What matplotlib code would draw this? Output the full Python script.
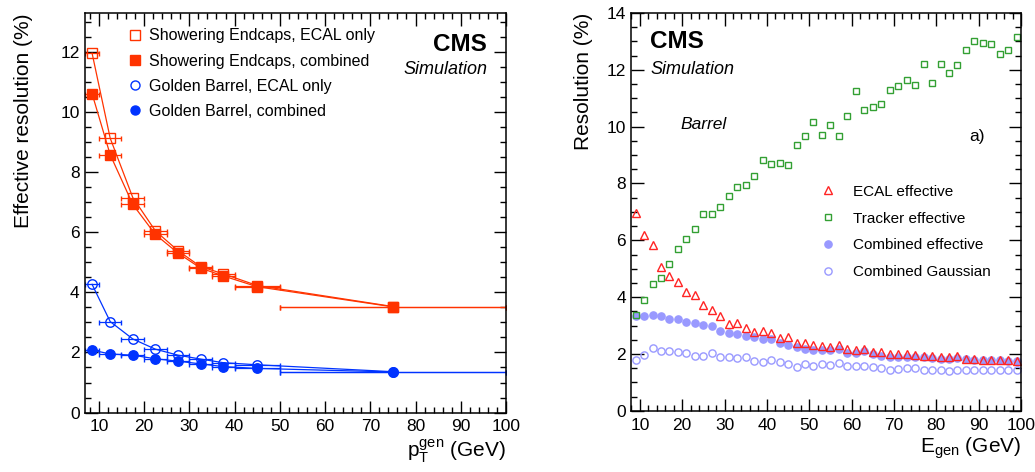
import numpy as np
import matplotlib
matplotlib.use('Agg')
import matplotlib.pyplot as plt
from matplotlib.lines import Line2D
from matplotlib.ticker import MultipleLocator

plt.rcParams['font.family'] = ['Liberation Sans', 'DejaVu Sans']
plt.rcParams['mathtext.fontset'] = 'custom'
plt.rcParams['mathtext.rm'] = 'Liberation Sans'
plt.rcParams['mathtext.it'] = 'Liberation Sans:italic'
plt.rcParams['mathtext.default'] = 'regular'

# --- Left panel: effective resolution in pT bins

pt_lo = np.array([7, 10, 15, 20, 25, 30, 35, 40, 50])
pt_hi = np.array([10, 15, 20, 25, 30, 35, 40, 50, 100])

endcap_ecal = [11.97, 9.14, 7.16, 6.05, 5.39, 4.86, 4.62, 4.23, 3.53]
endcap_comb = [10.62, 8.59, 6.93, 5.93, 5.31, 4.81, 4.55, 4.19, 3.52]
barrel_ecal = [4.27, 3.03, 2.45, 2.11, 1.91, 1.78, 1.66, 1.59, 1.36]
barrel_comb = [2.08, 1.95, 1.91, 1.79, 1.71, 1.62, 1.53, 1.47, 1.35]

# --- Right panel: barrel resolution vs generated energy

e_gen = [9, 11, 13, 15, 17, 19, 21, 23, 25, 27, 29, 31, 33, 35, 37, 39,
         41, 43, 45, 47, 49, 51, 53, 55, 57, 59, 61, 63, 65, 67, 69, 71,
         73, 75, 77, 79, 81, 83, 85, 87, 89, 91, 93, 95, 97, 99]

ecal_eff = [6.95, 6.17, 5.85, 5.06, 4.75, 4.52, 4.18, 4.06, 3.74, 3.55,
            3.32, 3.05, 3.09, 2.92, 2.77, 2.80, 2.74, 2.56, 2.59, 2.40,
            2.37, 2.31, 2.29, 2.23, 2.30, 2.18, 2.15, 2.17, 2.06, 2.06,
            2.00, 2.00, 2.00, 1.98, 1.94, 1.94, 1.88, 1.88, 1.92, 1.83,
            1.82, 1.78, 1.80, 1.78, 1.78, 1.75]

tracker_eff = [3.37, 3.89, 4.47, 4.68, 5.15, 5.69, 6.05, 6.38, 6.94, 6.92,
               7.16, 7.55, 7.86, 7.93, 8.27, 8.81, 8.70, 8.72, 8.64, 9.34,
               9.66, 10.15, 9.71, 10.05, 9.68, 10.38, 11.26, 10.58, 10.70, 10.79,
               11.28, 11.42, 11.63, 11.46, 12.21, 11.55, 12.21, 11.90, 12.16, 12.71,
               13.00, 12.93, 12.90, 12.56, 12.71, 13.15]

comb_eff = [3.35, 3.35, 3.37, 3.34, 3.24, 3.23, 3.13, 3.09, 3.03, 2.97,
            2.80, 2.74, 2.69, 2.64, 2.58, 2.51, 2.52, 2.37, 2.33, 2.24,
            2.16, 2.15, 2.15, 2.15, 2.16, 2.05, 2.03, 2.09, 2.01, 1.94,
            1.91, 1.91, 1.90, 1.89, 1.90, 1.85, 1.81, 1.82, 1.84, 1.81,
            1.79, 1.77, 1.77, 1.77, 1.76, 1.74]

comb_gaus = [1.78, 1.98, 2.22, 2.09, 2.12, 2.06, 2.05, 1.92, 1.92, 2.02,
             1.89, 1.88, 1.87, 1.88, 1.74, 1.71, 1.79, 1.71, 1.63, 1.55,
             1.64, 1.56, 1.64, 1.60, 1.68, 1.57, 1.57, 1.58, 1.55, 1.52,
             1.44, 1.48, 1.50, 1.50, 1.42, 1.45, 1.44, 1.41, 1.42, 1.45,
             1.45, 1.43, 1.43, 1.42, 1.42, 1.42]

RED = '#ff3300'
BLUE = '#0033ff'
TRI_RED = '#ff2424'
GREEN = '#33a033'
LAV = '#9999ff'


def root_style(ax):
    ax.tick_params(which='both', direction='in', top=True, right=True,
                   labelsize=12.5, width=1.0)
    ax.tick_params(which='major', length=9)
    ax.tick_params(which='minor', length=4.5)
    ax.tick_params(axis='y', pad=4)
    ax.tick_params(axis='x', pad=5)
    for sp in ax.spines.values():
        sp.set_linewidth(1.1)


fig = plt.figure(figsize=(10.35, 4.72), dpi=100)

# --- Left panel
ax1 = fig.add_axes([0.0824, 0.126, 0.4065, 0.846])
pt = (pt_lo + pt_hi) / 2
xerr = [pt - pt_lo, pt_hi - pt]

series = [
    (endcap_ecal, 's', RED, 'none', 'Showering Endcaps, ECAL only'),
    (endcap_comb, 's', RED, RED, 'Showering Endcaps, combined'),
    (barrel_ecal, 'o', BLUE, 'none', 'Golden Barrel, ECAL only'),
    (barrel_comb, 'o', BLUE, BLUE, 'Golden Barrel, combined'),
]
handles = []
for vals, mk, col, face, lab in series:
    ax1.errorbar(pt, vals, xerr=xerr, fmt=mk + '-', color=col, mfc=face,
                 mec=col, ms=6.8, mew=1.0, lw=0.9, elinewidth=0.9,
                 capsize=1.8, capthick=0.9)
    handles.append(Line2D([0], [0], marker=mk, ls='none', color=col,
                          mfc=face, mec=col, ms=6.5, mew=1.0, label=lab))

ax1.set_xlim(7, 100)
ax1.set_ylim(0, 13.3)
ax1.xaxis.set_major_locator(MultipleLocator(10))
ax1.xaxis.set_minor_locator(MultipleLocator(2))
ax1.yaxis.set_major_locator(MultipleLocator(2))
ax1.yaxis.set_minor_locator(MultipleLocator(0.5))
root_style(ax1)
ax1.set_xlabel(r'$p_{T}^{gen}$ (GeV)', fontsize=15, loc='right', labelpad=2)
ax1.set_ylabel('Effective resolution (%)', fontsize=15, loc='top', labelpad=20)

ax1.legend(handles=handles, loc='upper left', bbox_to_anchor=(0.104, 0.962),
           frameon=False, fontsize=11.5, borderpad=0, borderaxespad=0,
           handlelength=0.8, handletextpad=0.45, labelspacing=0.64)

ax1.text(0.955, 0.905, 'CMS', transform=ax1.transAxes, ha='right',
         va='baseline', fontsize=17.5, fontweight='bold')
ax1.text(0.955, 0.848, 'Simulation', transform=ax1.transAxes, ha='right',
         va='baseline', fontsize=13, style='italic')

# --- Right panel
ax2 = fig.add_axes([0.61, 0.1297, 0.3765, 0.8428])
ax2.plot(e_gen, comb_gaus, 'o', ls='none', mfc='none', mec=LAV, ms=5.2,
         mew=1.0, label='Combined Gaussian')
ax2.plot(e_gen, comb_eff, 'o', ls='none', color=LAV, ms=5.2,
         label='Combined effective')
ax2.plot(e_gen, tracker_eff, 's', ls='none', mfc='none', mec=GREEN, ms=4.5,
         mew=1.0, label='Tracker effective')
ax2.plot(e_gen, ecal_eff, '^', ls='none', mfc='none', mec=TRI_RED, ms=6,
         mew=1.0, label='ECAL effective')

ax2.set_xlim(8, 100)
ax2.set_ylim(0, 14)
ax2.xaxis.set_major_locator(MultipleLocator(10))
ax2.xaxis.set_minor_locator(MultipleLocator(2))
ax2.yaxis.set_major_locator(MultipleLocator(2))
ax2.yaxis.set_minor_locator(MultipleLocator(0.5))
root_style(ax2)
ax2.set_xlabel(r'$E_{gen}$ (GeV)', fontsize=15, loc='right', labelpad=2)
ax2.set_ylabel('Resolution (%)', fontsize=15, loc='top', labelpad=10)

h, l = ax2.get_legend_handles_labels()
ax2.legend(h[::-1], l[::-1], loc='upper left', bbox_to_anchor=(0.466, 0.568),
           frameon=False, fontsize=11, borderpad=0, borderaxespad=0,
           handlelength=2.0, handletextpad=0.63, labelspacing=0.84)

ax2.text(0.048, 0.912, 'CMS', transform=ax2.transAxes, ha='left',
         va='baseline', fontsize=17.5, fontweight='bold')
ax2.text(0.048, 0.846, 'Simulation', transform=ax2.transAxes, ha='left',
         va='baseline', fontsize=13, style='italic')
ax2.text(0.125, 0.709, 'Barrel', transform=ax2.transAxes, ha='left',
         va='baseline', fontsize=12.5, style='italic')
ax2.text(0.868, 0.679, 'a)', transform=ax2.transAxes, ha='left',
         va='baseline', fontsize=12.5)

fig.savefig('out.png', dpi=100)
